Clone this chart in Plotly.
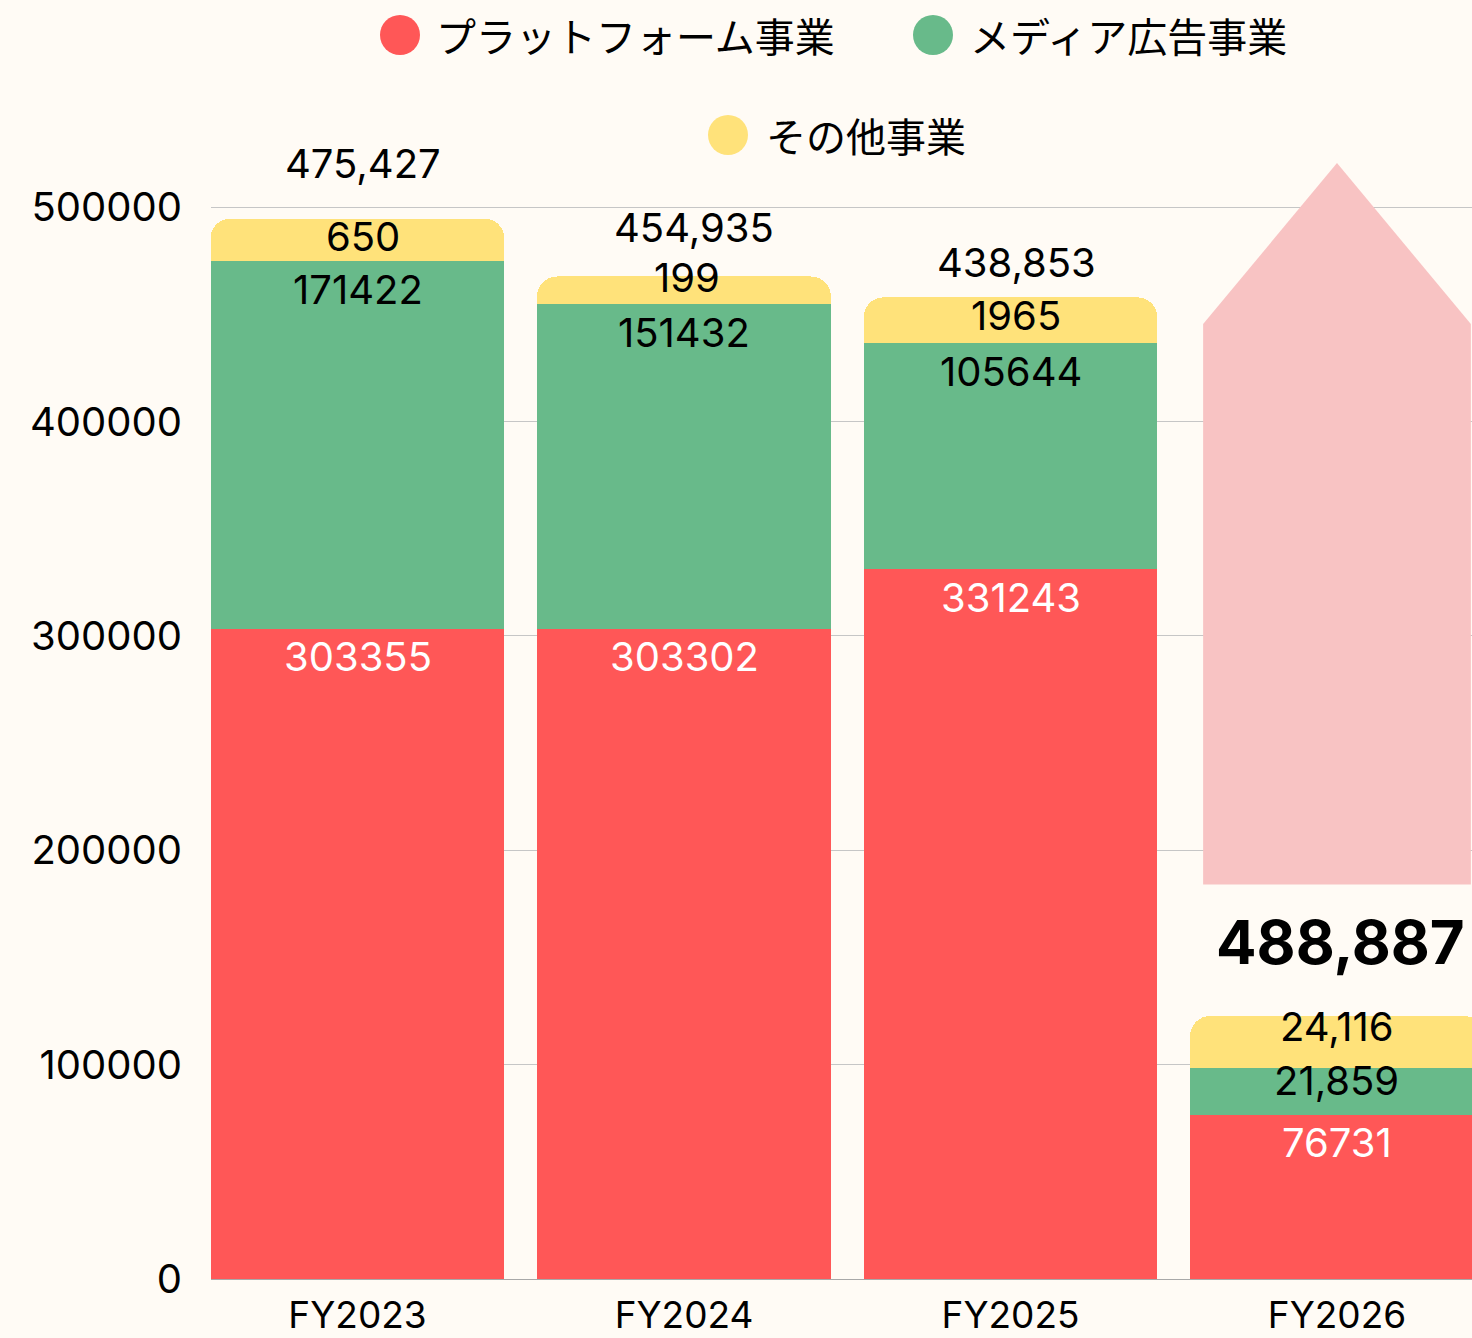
import plotly.graph_objects as go

# ---------------- data ----------------
categories = ["FY2023", "FY2024", "FY2025", "FY2026"]
series_names = ["プラットフォーム事業", "メディア広告事業", "その他事業"]
platform = [303355, 303302, 331243, 76731]
media = [171422, 151432, 105644, 21859]
other_drawn = [20000, 13000, 21100, 24116]          # heights as drawn
platform_labels = ["303355", "303302", "331243", "76731"]
media_labels = ["171422", "151432", "105644", "21,859"]
other_labels = ["650", "199", "1965", "24,116"]
total_labels = ["475,427", "454,935", "438,853", "488,887"]
y_ticks = [0, 100000, 200000, 300000, 400000, 500000]
# forecast arrow over FY2026 (values on y axis)
arrow_bottom = 184100
arrow_shoulder = 445500
arrow_apex = 520700

# ---------------- styles ----------------
colors = ["#ff5757", "#68ba8a", "#ffe27a"]
bg = "#fffbf5"
arrow_color = "#f8c3c3"
FONT = "Inter, 'Noto Sans CJK JP', sans-serif"
JP_FONT = "'Noto Sans CJK JP', sans-serif"
LBL = 40

W, H = 1472, 1338
ML, MR, MT, MB = 211, 0, 122, 59
YMAX = 539800

x = list(range(len(categories)))

fig = go.Figure()
for name, vals, col in zip(series_names, [platform, media, other_drawn], colors):
    fig.add_trace(go.Bar(x=x, y=vals, name=name, marker=dict(color=col, line=dict(width=0)),
                         width=0.9, showlegend=False, hoverinfo="skip"))

# segment labels via annotations anchored at segment tops
plat_top = platform
med_top = [p + m for p, m in zip(platform, media)]
oth_top = [t + o for t, o in zip(med_top, other_drawn)]

plat_shift = [-28, -28, -28, -28]
med_shift = [-28, -28, -29, -13]
oth_shift = [-18, -1, -18, -11]
oth_xshift = [5, 3, 5, 0]
tot_shift = [55, 49, 35, 74]
tot_xshift = [5, 10, 6, 4]

ann = []
for i in x:
    ann.append(dict(x=i, y=plat_top[i], yshift=plat_shift[i], text=platform_labels[i], showarrow=False,
                    font=dict(family=FONT, size=LBL, color="white"), yanchor="middle"))
    ann.append(dict(x=i, y=med_top[i], yshift=med_shift[i], text=media_labels[i], showarrow=False,
                    font=dict(family=FONT, size=LBL, color="black"), yanchor="middle"))
    ann.append(dict(x=i, y=oth_top[i], yshift=oth_shift[i], xshift=oth_xshift[i], text=other_labels[i],
                    showarrow=False, font=dict(family=FONT, size=LBL, color="black"), yanchor="middle"))
    last = i == len(categories) - 1
    ann.append(dict(x=i, y=oth_top[i], yshift=tot_shift[i], xshift=tot_xshift[i],
                    text=("<b>%s</b>" % total_labels[i]) if last else total_labels[i], showarrow=False,
                    font=dict(family=FONT, size=60 if last else LBL, color="black"), yanchor="middle"))

# custom legend (circles + text) in paper coordinates
pw, ph = W - ML - MR, H - MT - MB
def px2paper(px, py):
    return (px - ML) / pw, (H - MB - py) / ph

legend_pos = [(400, 35, 434), (933, 35, 968), (728, 135, 764)]
shapes = []
for (cx, cy, tx), name, col in zip(legend_pos, series_names, colors):
    x0, y0 = px2paper(cx - 20, cy + 20)
    x1, y1 = px2paper(cx + 20, cy - 20)
    shapes.append(dict(type="circle", xref="paper", yref="paper", x0=x0, y0=y0, x1=x1, y1=y1,
                       fillcolor=col, line=dict(width=0)))
    ax_, ay_ = px2paper(tx, cy)
    ann.append(dict(xref="paper", yref="paper", x=ax_, y=ay_, text=name, showarrow=False,
                    xanchor="left", yanchor="middle", font=dict(family=JP_FONT, size=40, color="black")))

# forecast arrow
c = x[-1]
hw = 0.41
path = (f"M {c-hw},{arrow_bottom} L {c-hw},{arrow_shoulder} L {c},{arrow_apex} "
        f"L {c+hw},{arrow_shoulder} L {c+hw},{arrow_bottom} Z")
shapes.append(dict(type="path", xref="x", yref="y", path=path, fillcolor=arrow_color,
                   line=dict(width=0), layer="above"))

fig.update_layout(
    width=W, height=H, autosize=False,
    margin=dict(l=ML, r=MR, t=MT, b=MB, pad=0),
    paper_bgcolor=bg, plot_bgcolor=bg,
    barmode="stack", barcornerradius=20,
    showlegend=False,
    annotations=ann, shapes=shapes,
    font=dict(family=FONT, color="black"),
)
fig.update_xaxes(range=[-0.4487, 3.4135], tickvals=x, ticktext=categories, showgrid=False,
                 zeroline=False, showline=False, ticks="", tickfont=dict(family=FONT, size=37),
                 ticklabelstandoff=11)
fig.update_yaxes(range=[0, YMAX], tickvals=y_ticks, ticktext=[str(v) for v in y_ticks],
                 showgrid=True, gridcolor="#c6c6c6", gridwidth=1, zeroline=True,
                 zerolinecolor="#a8a8a8", zerolinewidth=1, showline=False, ticks="",
                 tickfont=dict(family=FONT, size=40), ticklabelstandoff=28)

fig.write_html("out.html", config={"displayModeBar": False},
               post_script="document.body.style.margin='0';document.body.style.background='%s';" % bg)
